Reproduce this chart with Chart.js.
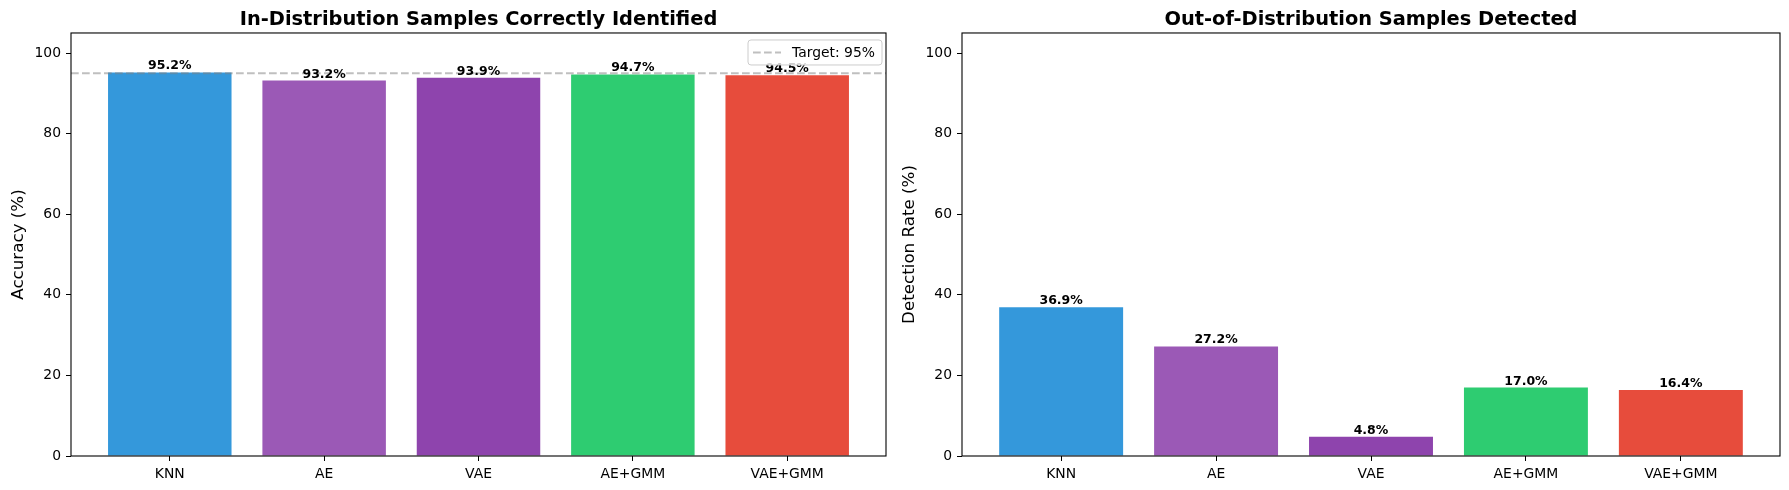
<!DOCTYPE html>
<html><head><meta charset="utf-8">
<script src="https://cdn.jsdelivr.net/npm/chart.js@4"></script>
<style>
html,body{margin:0;padding:0;background:#fff;}
#wrap{position:relative;width:1789px;height:490px;background:#fff;}
.panel{position:absolute;top:0;height:490px;}
</style></head><body>
<div id="wrap">
<div class="panel" style="left:0;width:894px"><canvas id="c1"></canvas></div>
<div class="panel" style="left:894px;width:895px"><canvas id="c2"></canvas></div>
</div>
<script>
const METHODS = ['KNN', 'AE', 'VAE', 'AE+GMM', 'VAE+GMM'];
const ID_ACCURACY = [95.2, 93.2, 93.9, 94.7, 94.5];
const OOD_DETECTION = [36.9, 27.2, 4.8, 17.0, 16.4];
const BAR_COLORS = ['#3498db', '#9b59b6', '#8e44ad', '#2ecc71', '#e74c3c'];
const Y_TICKS = [0, 20, 40, 60, 80, 100];
const TARGET = 95;
const TARGET_LABEL = 'Target: 95%';

const FAMILY = "'DejaVu Sans', sans-serif";

const decor = {
  id: 'decor',
  afterDatasetsDraw(chart, args, opts) {
    const ctx = chart.ctx, ca = chart.chartArea;
    ctx.save();
    if (opts.target != null) {
      const y = chart.scales.y.getPixelForValue(opts.target);
      ctx.strokeStyle = 'rgba(128,128,128,0.5)';
      ctx.lineWidth = 2;
      ctx.setLineDash([7.7, 3.3]);
      ctx.beginPath(); ctx.moveTo(ca.left, y); ctx.lineTo(ca.right, y); ctx.stroke();
      ctx.setLineDash([]);
    }
    const meta = chart.getDatasetMeta(0);
    const vals = chart.data.datasets[0].data;
    ctx.fillStyle = '#000';
    ctx.font = "bold 12.5px " + FAMILY;
    ctx.textAlign = 'center';
    ctx.textBaseline = 'alphabetic';
    meta.data.forEach((el, i) => {
      ctx.fillText(vals[i].y.toFixed(1) + '%', el.x, el.y - 3);
    });
    ctx.strokeStyle = '#000';
    ctx.lineWidth = 1.1;
    ctx.strokeRect(ca.left, ca.top, ca.right - ca.left, ca.bottom - ca.top);
    if (opts.legendText) {
      const w = 134, h = 25;
      const x1 = ca.right - 4 - w, y1 = ca.top + 7;
      ctx.beginPath();
      ctx.roundRect(x1, y1, w, h, 3);
      ctx.fillStyle = 'rgba(255,255,255,0.8)';
      ctx.fill();
      ctx.strokeStyle = '#cccccc';
      ctx.lineWidth = 1;
      ctx.stroke();
      const cy = y1 + h / 2;
      ctx.strokeStyle = 'rgba(128,128,128,0.5)';
      ctx.lineWidth = 2;
      ctx.setLineDash([7.7, 3.3]);
      ctx.beginPath(); ctx.moveTo(x1 + 5, cy); ctx.lineTo(x1 + 33, cy); ctx.stroke();
      ctx.setLineDash([]);
      ctx.fillStyle = '#000';
      ctx.font = "13.9px " + FAMILY;
      ctx.textAlign = 'left';
      ctx.textBaseline = 'middle';
      ctx.fillText(opts.legendText, x1 + 44, cy + 0.5);
    }
    ctx.restore();
  }
};

function makeChart(id, values, title, yLabel, areaLeft, areaRight, panelWidth, yTitlePad, extra) {
  return new Chart(document.getElementById(id), {
    type: 'bar',
    data: {
      datasets: [{
        data: values.map((v, i) => ({ x: i, y: v })),
        backgroundColor: BAR_COLORS,
        borderWidth: 0,
        barPercentage: 0.8,
        categoryPercentage: 1.0
      }]
    },
    options: {
      responsive: true,
      maintainAspectRatio: false,
      animation: false,
      layout: { padding: { top: 0, left: 0, right: panelWidth - areaRight, bottom: 0 } },
      plugins: {
        legend: { display: false },
        tooltip: { enabled: false },
        title: {
          display: true, text: title, fullSize: false, color: '#000',
          font: { family: FAMILY, size: 19.4, weight: 'bold', lineHeight: 1.2 },
          padding: { top: 8.4, bottom: 1.3 }
        },
        decor: extra
      },
      scales: {
        x: {
          type: 'linear', min: -0.64, max: 4.64, offset: false,
          afterBuildTicks: s => { s.ticks = METHODS.map((_, i) => ({ value: i })); },
          afterFit: s => { s.height = 34; },
          ticks: {
            callback: v => METHODS[v], color: '#000', padding: 5, maxRotation: 0, autoSkip: false,
            font: { family: FAMILY, size: 13.9 }
          },
          grid: { offset: false, drawOnChartArea: false, drawTicks: true, tickLength: 5, tickColor: '#000', tickWidth: 1 },
          border: { display: false }
        },
        y: {
          min: 0, max: 105,
          afterBuildTicks: s => { s.ticks = Y_TICKS.map(v => ({ value: v })); },
          afterFit: s => { s.width = areaLeft; },
          ticks: { color: '#000', padding: 5, font: { family: FAMILY, size: 13.9 } },
          grid: { drawOnChartArea: false, drawTicks: true, tickLength: 5, tickColor: '#000', tickWidth: 1 },
          border: { display: false },
          title: {
            display: true, text: yLabel, color: '#000',
            font: { family: FAMILY, size: 16.7 },
            padding: { top: yTitlePad, bottom: 0 }
          }
        }
      }
    },
    plugins: [decor]
  });
}

makeChart('c1', ID_ACCURACY, 'In-Distribution Samples Correctly Identified', 'Accuracy (%)',
  71, 886, 894, 9, { target: TARGET, legendText: TARGET_LABEL });
makeChart('c2', OOD_DETECTION, 'Out-of-Distribution Samples Detected', 'Detection Rate (%)',
  68, 886, 895, 6, {});
</script>
</body></html>
